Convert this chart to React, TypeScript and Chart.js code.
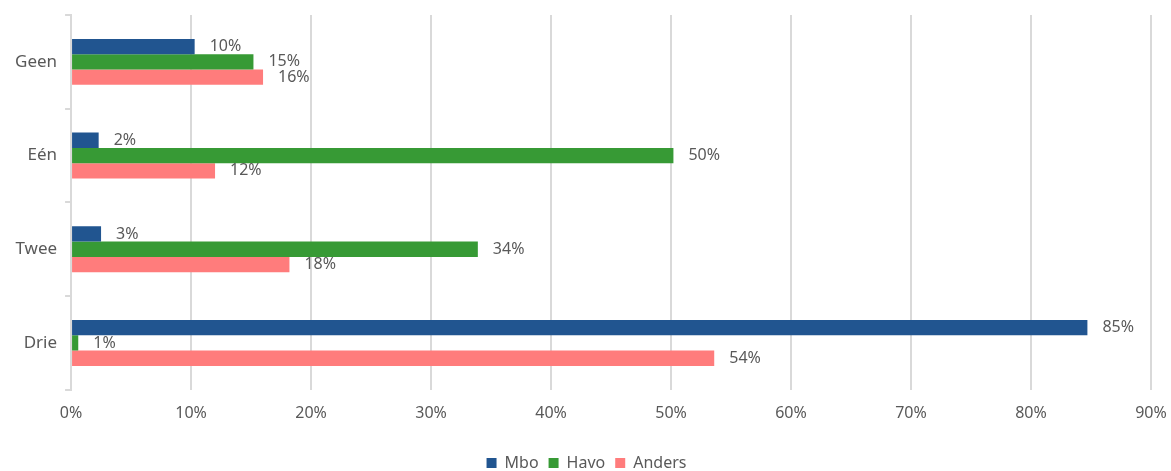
import React, { useEffect, useRef } from "react";
import { Chart, registerables } from "chart.js";

Chart.register(...registerables);

const categories = ["Geen", "Eén", "Twee", "Drie"];
const mbo = [10.3, 2.3, 2.5, 84.7];
const havo = [15.2, 50.2, 33.9, 0.6];
const anders = [16.0, 12.0, 18.2, 53.6];
const seriesNames = ["Mbo", "Havo", "Anders"];
const xTickMax = 90;
const xTickStep = 10;

const FONT = "'Noto Sans', sans-serif";

const valueLabels = {
  id: "valueLabels",
  afterDatasetsDraw(chart: any) {
    const ctx = chart.ctx;
    ctx.save();
    ctx.font = `16px ${FONT}`;
    ctx.fillStyle = "#595959";
    ctx.textAlign = "left";
    ctx.textBaseline = "middle";
    chart.data.datasets.forEach((ds: any, i: number) => {
      const meta = chart.getDatasetMeta(i);
      meta.data.forEach((el: any, j: number) => {
        const v = ds.data[j];
        ctx.fillText(Math.round(v) + "%", el.x + 15, el.y);
      });
    });
    ctx.restore();
  },
};

export default function App() {
  const ref = useRef<HTMLCanvasElement>(null);
  useEffect(() => {
    document.body.style.margin = "0";
    const chart = new Chart(ref.current!, {
      type: "bar",
      data: {
        labels: categories,
        datasets: [
          { label: seriesNames[0], data: mbo, backgroundColor: "#215590" },
          { label: seriesNames[1], data: havo, backgroundColor: "#379a35" },
          { label: seriesNames[2], data: anders, backgroundColor: "#ff7c7c" },
        ],
      },
      options: {
        indexAxis: "y",
        animation: false,
        responsive: false,
        maintainAspectRatio: false,
        layout: { padding: { top: 15, right: 5, left: 7, bottom: -10 } },
        datasets: {
          bar: { categoryPercentage: 0.49, barPercentage: 1 },
        },
        scales: {
          x: {
            min: 0,
            max: xTickMax,
            ticks: {
              stepSize: xTickStep,
              callback: (v: any) => v + "%",
              color: "#595959",
              font: { family: FONT, size: 16 },
              padding: 14,
            },
            grid: { color: "#d9d9d9", lineWidth: 2, drawTicks: false },
            border: { display: false },
            afterFit: (scale: any) => {
              scale.height += 8;
              scale.paddingRight = 20;
            },
          },
          y: {
            offset: true,
            ticks: {
              color: "#595959",
              font: { family: FONT, size: 17 },
              padding: 8,
            },
            grid: {
              offset: true,
              drawOnChartArea: false,
              drawTicks: true,
              tickLength: 6,
              color: "#d9d9d9",
              lineWidth: 2,
            },
            border: { display: true, color: "#d9d9d9", width: 2 },
            afterFit: (scale: any) => {
              scale.paddingTop = 0;
              scale.paddingBottom = 0;
            },
          },
        },
        plugins: {
          legend: {
            position: "bottom",
            labels: {
              boxWidth: 10,
              boxHeight: 10,
              color: "#595959",
              font: { family: FONT, size: 16 },
              padding: 10,
            },
          },
          tooltip: { enabled: false },
        },
      },
      plugins: [valueLabels],
    });
    return () => chart.destroy();
  }, []);
  return (
    <div style={{ position: "absolute", left: 0, top: 0, width: 1171, height: 471 }}>
      <canvas ref={ref} width={1171} height={471} style={{ width: 1171, height: 471 }} />
    </div>
  );
}
